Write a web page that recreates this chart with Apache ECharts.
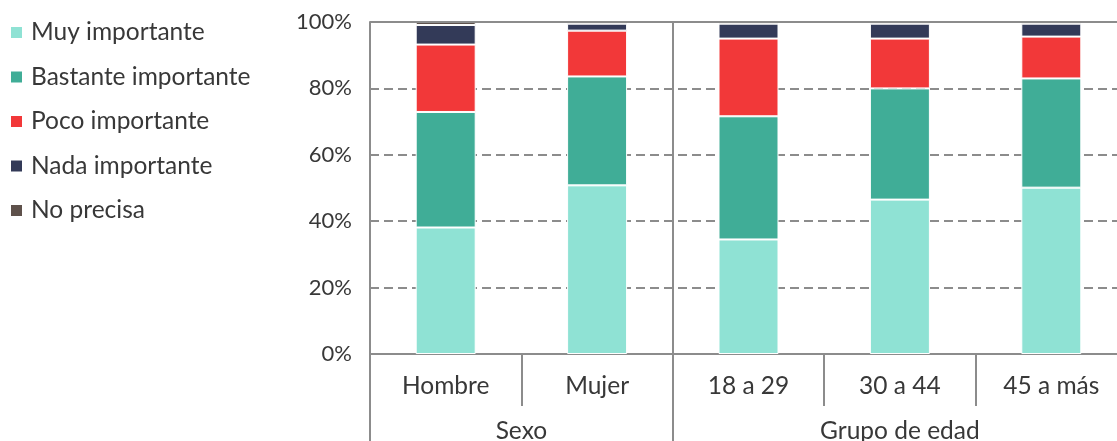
<!DOCTYPE html>
<html>
<head>
<meta charset="utf-8">
<script src="https://cdn.jsdelivr.net/npm/echarts@6/dist/echarts.min.js"></script>
<style>html,body{margin:0;padding:0;background:#fff;overflow:hidden}#c{width:1117px;height:441px}</style>
</head>
<body>
<div id="c"></div>
<script>
const categories = ['Hombre', 'Mujer', '18 a 29', '30 a 44', '45 a más'];
const groups = [{ name: 'Sexo', from: 0, to: 2 }, { name: 'Grupo de edad', from: 2, to: 5 }];
const muyImportante = [38.1, 50.8, 34.5, 46.5, 50.1];
const bastanteImportante = [34.8, 32.8, 37.1, 33.5, 32.9];
const pocoImportante = [20.3, 13.8, 23.4, 15.0, 12.6];
const nadaImportante = [5.9, 2.1, 4.5, 4.5, 3.9];
const noPrecisa = [0.9, 0.5, 0.5, 0.5, 0.5];
const yTicks = [0, 20, 40, 60, 80, 100];

const seriesDefs = [
  { name: 'Muy importante', data: muyImportante, color: '#8FE2D4' },
  { name: 'Bastante importante', data: bastanteImportante, color: '#40AD97' },
  { name: 'Poco importante', data: pocoImportante, color: '#F23839' },
  { name: 'Nada importante', data: nadaImportante, color: '#333A58' },
  { name: 'No precisa', data: noPrecisa, color: '#5E514B' }
];

const FONT = 'Lato';
const TEXT = '#383838';
const AXIS = '#8c8c8c';
const chart = echarts.init(document.getElementById('c'), null, { renderer: 'canvas' });

const groupLabelValues = groups.map(g => (g.from + g.to) / 2);
const groupBounds = [0].concat(groups.map(g => g.to));

const series = seriesDefs.map(s => ({
  name: s.name,
  type: 'bar',
  stack: 'total',
  data: s.data,
  barWidth: 60,
  itemStyle: { color: s.color, borderColor: '#fff', borderWidth: 1 },
  emphasis: { disabled: true }
}));
series.push({
  type: 'scatter',
  xAxisIndex: 1,
  yAxisIndex: 0,
  data: [],
  silent: true,
  markLine: {
    silent: true,
    symbol: 'none',
    label: { show: false },
    lineStyle: { color: AXIS, width: 2, type: 'solid' },
    data: groups.slice(0, -1).map(g => ({ xAxis: g.to })).concat([{ yAxis: 100 }])
  }
});

chart.setOption({
  animation: false,
  textStyle: { fontFamily: FONT },
  legend: {
    orient: 'vertical',
    left: 9,
    top: 20,
    padding: 0,
    icon: 'rect',
    itemWidth: 13,
    itemHeight: 13,
    itemGap: 19.5,
    data: seriesDefs.map(s => s.name),
    textStyle: { fontFamily: FONT, fontSize: 24.5, color: TEXT, padding: [0, 0, 0, 3] },
    selectedMode: false
  },
  grid: { left: 370, top: 22, bottom: 87, width: 757, containLabel: false, outerBoundsMode: 'none' },
  xAxis: [
    {
      type: 'category',
      data: categories,
      position: 'bottom',
      axisLine: { show: true, lineStyle: { color: AXIS, width: 2 } },
      axisTick: { show: true, interval: 0, length: 52, lineStyle: { color: AXIS, width: 2 } },
      axisLabel: { interval: 0, margin: 20, fontFamily: FONT, fontSize: 24.5, color: TEXT },
      splitLine: { show: false }
    },
    {
      type: 'value',
      min: 0,
      max: categories.length,
      position: 'bottom',
      axisLine: { show: false },
      axisTick: { show: true, customValues: groupBounds, length: 87, lineStyle: { color: AXIS, width: 2 } },
      axisLabel: {
        show: true,
        customValues: groupLabelValues,
        margin: 65,
        fontFamily: FONT,
        fontSize: 24.5,
        color: TEXT,
        formatter: v => { const g = groups.find(g => (g.from + g.to) / 2 === v); return g ? g.name : ''; }
      },
      splitLine: { show: false }
    }
  ],
  yAxis: {
    type: 'value',
    min: 0,
    max: 100,
    interval: 20,
    axisLine: { show: true, lineStyle: { color: AXIS, width: 2 } },
    axisTick: { show: false },
    axisLabel: {
      margin: 18,
      fontFamily: FONT,
      fontSize: 22,
      color: TEXT,
      formatter: v => yTicks.includes(v) ? v + '%' : ''
    },
    splitLine: { show: true, lineStyle: { color: AXIS, width: 2, type: [9, 5] } }
  },
  series: series
});
</script>
</body>
</html>
